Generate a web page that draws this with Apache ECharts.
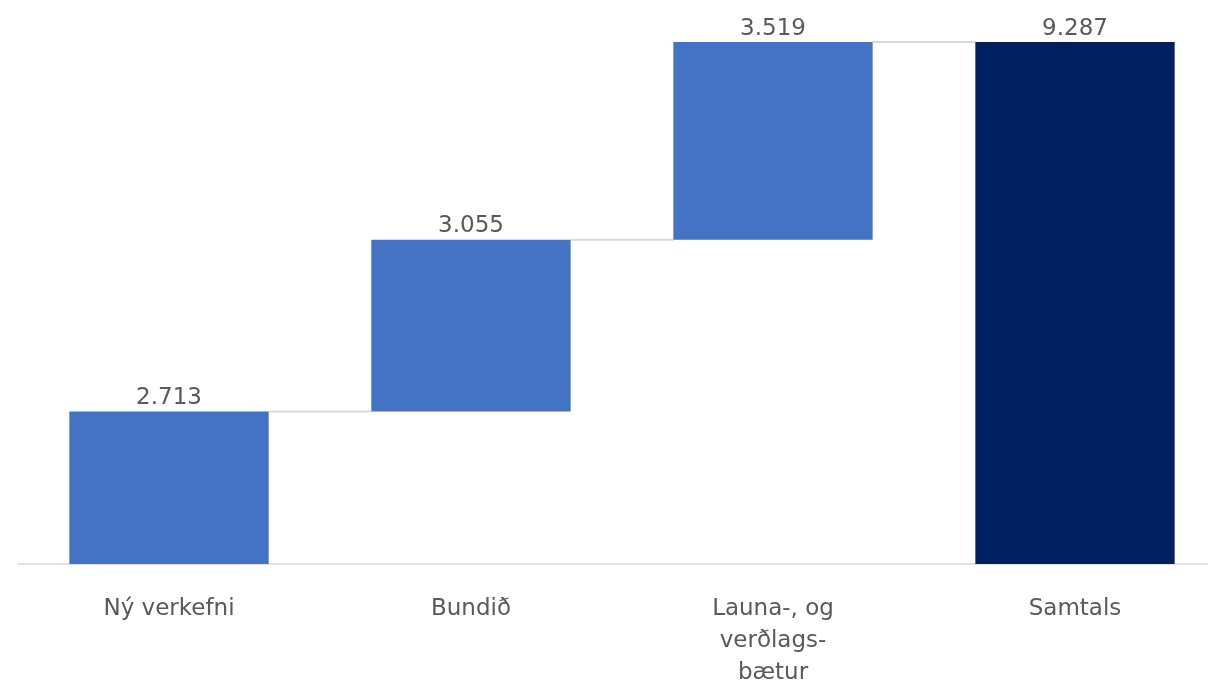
<!DOCTYPE html>
<html>
<head>
<meta charset="utf-8">
<script src="https://cdn.jsdelivr.net/npm/echarts@6/dist/echarts.min.js"></script>
<style>
html,body{margin:0;padding:0;background:#fff;}
#chart{width:1208px;height:687px;}
</style>
</head>
<body>
<div id="chart"></div>
<script>
const categories = ['Ný verkefni', 'Bundið', 'Launa-, og\nverðlags-\nbætur', 'Samtals'];
const values = [2.713, 3.055, 3.519, 9.287];
const isTotal = [false, false, false, true];

const stepColor = '#4472C4';
const totalColor = '#002060';
const barFrac = 0.66;

// bases from running sum
const bases = [];
const tops = [];
let run = 0;
values.forEach((v, i) => {
  if (isTotal[i]) { bases.push(0); tops.push(v); run = v; }
  else { bases.push(run); run += v; tops.push(run); }
});
const connectors = [];
for (let i = 0; i < values.length - 1; i++) connectors.push([i, tops[i]]);

const fontFam = 'DejaVu Sans';

const chart = echarts.init(document.getElementById('chart'));
chart.setOption({
  animation: false,
  backgroundColor: '#fff',
  grid: { left: 18, width: 1208, top: 2, bottom: 123, outerBoundsMode: 'none', containLabel: false },
  xAxis: {
    type: 'category',
    data: categories,
    axisLine: { show: true, lineStyle: { color: '#d9d9d9', width: 1.5 } },
    axisTick: { show: false },
    axisLabel: {
      interval: 0, margin: 29, color: '#595959',
      fontFamily: fontFam, fontSize: 23, lineHeight: 32
    }
  },
  yAxis: {
    type: 'value', min: 0, max: 10,
    show: false, splitLine: { show: false }
  },
  series: [
    {
      type: 'bar', stack: 'w', barWidth: (barFrac * 100) + '%',
      data: bases,
      itemStyle: { color: 'transparent' },
      silent: true
    },
    {
      type: 'bar', stack: 'w', barWidth: (barFrac * 100) + '%',
      data: values.map((v, i) => ({ value: v, itemStyle: { color: isTotal[i] ? totalColor : stepColor } })),
      label: {
        show: true, position: 'top', distance: 2,
        color: '#595959', fontFamily: fontFam, fontSize: 23,
        formatter: p => p.value.toFixed(3)
      }
    },
    {
      type: 'custom',
      data: connectors,
      silent: true,
      z: 1,
      renderItem: function (params, api) {
        const idx = api.value(0);
        const y = api.value(1);
        const p = api.coord([idx, y]);
        const band = api.size([1, 0])[0];
        const half = band * barFrac / 2;
        return {
          type: 'line',
          shape: { x1: p[0] + half, y1: p[1], x2: p[0] + band - half, y2: p[1] },
          style: { stroke: '#d9d9d9', lineWidth: 2 }
        };
      }
    }
  ]
});
</script>
</body>
</html>
